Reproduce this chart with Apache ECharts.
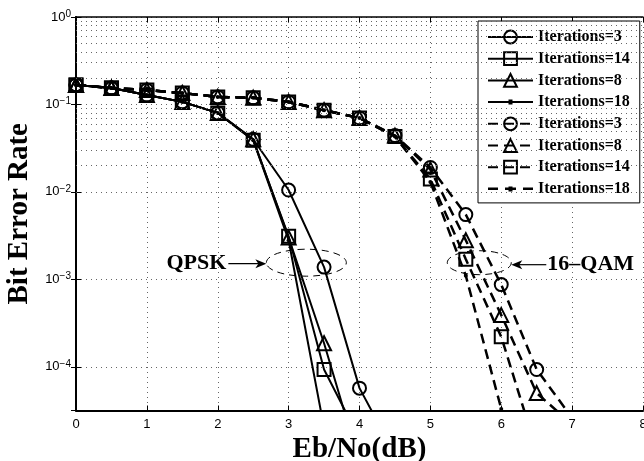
<!DOCTYPE html>
<html>
<head>
<meta charset="utf-8">
<script src="https://cdn.jsdelivr.net/npm/echarts@6/dist/echarts.min.js"></script>
<style>
html, body { margin: 0; padding: 0; background: #fff; }
#chart { width: 644px; height: 461px; }
</style>
</head>
<body>
<div id="chart"></div>
<script>
// Eb/No (dB)
var ebno = [0, 0.5, 1, 1.5, 2, 2.5, 3, 3.5, 4, 4.5, 5, 5.5, 6, 6.5, 7];

// QPSK 误码率
var qpskIter3  = [0.167, 0.154, 0.128, 0.107, 0.080, 0.040, 1.05e-2, 1.38e-3, 5.7e-5, 1.0e-5];
var qpskIter14 = [0.167, 0.154, 0.128, 0.107, 0.080, 0.039, 3.1e-3, 9.3e-5, 1.5e-5];
var qpskIter8  = [0.167, 0.154, 0.128, 0.107, 0.080, 0.040, 3.0e-3, 1.86e-4, 8e-6];
var qpskIter18 = [0.167, 0.154, 0.128, 0.107, 0.080, 0.039, 2.8e-3, 2e-5];

// 16-QAM 误码率
var qamIter3  = [0.167, 0.154, 0.146, 0.135, 0.122, 0.119, 0.107, 0.086, 0.070, 0.044, 1.9e-2, 5.5e-3, 8.7e-4, 9.3e-5, 2.6e-5];
var qamIter8  = [0.167, 0.154, 0.146, 0.135, 0.122, 0.119, 0.107, 0.086, 0.070, 0.044, 1.8e-2, 2.8e-3, 3.9e-4, 5.0e-5, 2.2e-5];
var qamIter14 = [0.167, 0.154, 0.146, 0.135, 0.122, 0.119, 0.107, 0.086, 0.070, 0.043, 1.4e-2, 1.7e-3, 2.2e-4, 1.1e-5];
var qamIter18 = [0.167, 0.154, 0.146, 0.135, 0.122, 0.119, 0.107, 0.086, 0.070, 0.043, 1.3e-2, 1.1e-3, 3.3e-5, 5e-6];

// 注释位置 (数据坐标)
var qpskMark = [3.25, 1.55e-3];
var qamMark = [5.69, 1.55e-3];

var yMin = Math.pow(10, -4.5);
var serif = 'Liberation Serif';
var sans = 'Liberation Sans';

function pairs(vals) {
    return vals.map(function (v, i) { return [ebno[i], v]; });
}

// 次网格线 2..9 x 10^n
var minorGrid = [];
for (var d = -5; d < 0; d++) {
    for (var m = 2; m <= 9; m++) {
        var v = m * Math.pow(10, d);
        if (v > yMin && v < 1) minorGrid.push({ yAxis: v });
    }
}

function curve(name, vals, symbol, dashed) {
    var dot = symbol === 'dot';
    return {
        name: name,
        type: 'line',
        data: pairs(vals),
        symbol: dot ? 'circle' : symbol,
        symbolSize: dot ? 4 : (symbol === 'triangle' ? 14 : 13),
        showAllSymbol: true,
        clip: true,
        lineStyle: { color: '#000', width: dashed ? 2.5 : 2, type: dashed ? [10, 6] : 'solid' },
        itemStyle: dot ? { color: '#000' } : { color: 'rgba(0,0,0,0)', borderColor: '#000', borderWidth: 2 },
        emphasis: { disabled: true },
        z: 3
    };
}

var chart = echarts.init(document.getElementById('chart'));

var dotLine = { color: '#666', width: 1, type: [1, 4] };

var legendNames = [
    'QPSK:Iterations=3', 'QPSK:Iterations=14', 'QPSK:Iterations=8', 'QPSK:Iterations=18',
    'QAM:Iterations=3', 'QAM:Iterations=8', 'QAM:Iterations=14', 'QAM:Iterations=18'
];

var option = {
    animation: false,
    backgroundColor: '#fff',
    grid: { left: 76, right: 1, top: 17, bottom: 50.5, outerBoundsMode: 'none', containLabel: false },
    legend: {
        orient: 'vertical',
        left: 478,
        top: 21,
        padding: [8, 10, 6, 9],
        itemGap: 5.7,
        itemWidth: 45,
        itemHeight: 16,
        itemTextGap: 5,
        backgroundColor: '#fff',
        borderColor: '#000',
        borderWidth: 1,
        selectedMode: false,
        formatter: function (n) { return n.split(':')[1]; },
        textStyle: { fontFamily: serif, fontWeight: 'bold', fontSize: 16, lineHeight: 16, color: '#000' },
        data: legendNames.map(function (n) {
            if (n === 'QPSK:Iterations=18') {
                return { name: n, icon: 'path://M0,0h45v2h-45z M20.5,-1.5h4v5h-4z' };
            }
            if (n === 'QAM:Iterations=18') {
                return { name: n, icon: 'path://M0,0h10v2.5h-10z M17,0h11v2.5h-11z M35,0h10v2.5h-10z M20.5,-1.2h4v5h-4z' };
            }
            return n;
        })
    },
    xAxis: [{
        type: 'value', min: 0, max: 8, interval: 1,
        name: 'Eb/No(dB)', nameLocation: 'middle', nameGap: 24,
        nameTextStyle: { fontFamily: serif, fontWeight: 'bold', fontSize: 29, color: '#000' },
        axisLine: { lineStyle: { color: '#000', width: 2 } },
        axisTick: { inside: true, length: 5, lineStyle: { color: '#000' } },
        axisLabel: { fontFamily: sans, fontSize: 13, color: '#000', margin: 7 },
        splitLine: { show: true, lineStyle: dotLine }
    }, {
        type: 'value', min: 0, max: 8, interval: 1, position: 'top',
        axisLine: { show: true, lineStyle: { color: '#000', width: 1.5 } },
        axisTick: { inside: true, length: 5, lineStyle: { color: '#000' } },
        axisLabel: { show: false }, splitLine: { show: false }
    }],
    yAxis: [{
        type: 'log', logBase: 10, min: yMin, max: 1,
        name: 'Bit Error Rate', nameLocation: 'middle', nameGap: 35, nameRotate: 90,
        nameTextStyle: { fontFamily: serif, fontWeight: 'bold', fontSize: 29, color: '#000' },
        axisLine: { show: true, lineStyle: { color: '#000', width: 2 } },
        axisTick: { show: true, inside: true, length: 5, lineStyle: { color: '#000' } },
        axisLabel: {
            margin: 5,
            formatter: function (v) {
                var l = Math.log10(v), e = Math.round(l);
                if (Math.abs(l - e) > 1e-6) return '';
                return '{b|10}{s|' + (e < 0 ? '\u2212' + (-e) : e) + '}';
            },
            rich: {
                b: { fontFamily: sans, fontSize: 13, lineHeight: 16, verticalAlign: 'middle', color: '#000' },
                s: { fontFamily: sans, fontSize: 10, lineHeight: 9, verticalAlign: 'top', color: '#000' }
            }
        },
        splitLine: { show: true, lineStyle: dotLine }
    }, {
        type: 'log', logBase: 10, min: yMin, max: 1, position: 'right',
        axisLine: { show: true, lineStyle: { color: '#000', width: 1.5 } },
        axisTick: { show: true, inside: true, length: 5, lineStyle: { color: '#000' } },
        axisLabel: { show: false }, splitLine: { show: false }
    }],
    series: [
        {
            name: 'grid', type: 'line', data: [], silent: true, z: 1,
            markLine: {
                silent: true, symbol: 'none', label: { show: false },
                lineStyle: dotLine,
                data: minorGrid
            }
        },
        curve('QPSK:Iterations=3', qpskIter3, 'circle', false),
        curve('QPSK:Iterations=14', qpskIter14, 'rect', false),
        curve('QPSK:Iterations=8', qpskIter8, 'triangle', false),
        curve('QPSK:Iterations=18', qpskIter18, 'dot', false),
        curve('QAM:Iterations=3', qamIter3, 'circle', true),
        curve('QAM:Iterations=8', qamIter8, 'triangle', true),
        curve('QAM:Iterations=14', qamIter14, 'rect', true),
        curve('QAM:Iterations=18', qamIter18, 'dot', true)
    ]
};

chart.setOption(option);

// 椭圆 + 箭头 + 文字注释
function arrowHead(tx, ty, dir) {
    return {
        type: 'polygon', z: 10,
        shape: { points: [[tx, ty], [tx - dir * 11, ty - 4.5], [tx - dir * 8, ty], [tx - dir * 11, ty + 4.5]] },
        style: { fill: '#000' }
    };
}

var p1 = chart.convertToPixel({ xAxisIndex: 0, yAxisIndex: 0 }, qpskMark);
var p2 = chart.convertToPixel({ xAxisIndex: 0, yAxisIndex: 0 }, qamMark);
var rx1 = 40, ry1 = 13.5, rx2 = 32, ry2 = 12;
var ellStyle = { fill: 'none', stroke: '#000', lineWidth: 1, lineDash: [7, 5] };
var t1 = p1[0] - rx1, t2 = p2[0] + rx2;

chart.setOption({
    graphic: [
        { type: 'ellipse', z: 10, shape: { cx: p1[0], cy: p1[1], rx: rx1, ry: ry1 }, style: ellStyle },
        { type: 'ellipse', z: 10, shape: { cx: p2[0], cy: p2[1], rx: rx2, ry: ry2 }, style: ellStyle },
        { type: 'line', z: 10, shape: { x1: t1 - 38, y1: p1[1] + 1, x2: t1 - 4, y2: p1[1] + 1 }, style: { stroke: '#000', lineWidth: 1.2 } },
        arrowHead(t1, p1[1] + 1, 1),
        { type: 'line', z: 10, shape: { x1: t2 + 35, y1: p2[1] + 2, x2: t2 + 4, y2: p2[1] + 2 }, style: { stroke: '#000', lineWidth: 1.2 } },
        arrowHead(t2, p2[1] + 2, -1),
        {
            type: 'text', z: 10, x: t1 - 40, y: p1[1] + 1,
            style: { text: 'QPSK', fill: '#000', font: 'bold 22px "Liberation Serif"', align: 'right', verticalAlign: 'middle' }
        },
        {
            type: 'text', z: 10, x: t2 + 36, y: p2[1] + 2,
            style: { text: '16\u2013QAM', fill: '#000', font: 'bold 22px "Liberation Serif"', align: 'left', verticalAlign: 'middle' }
        }
    ]
});
</script>
</body>
</html>
